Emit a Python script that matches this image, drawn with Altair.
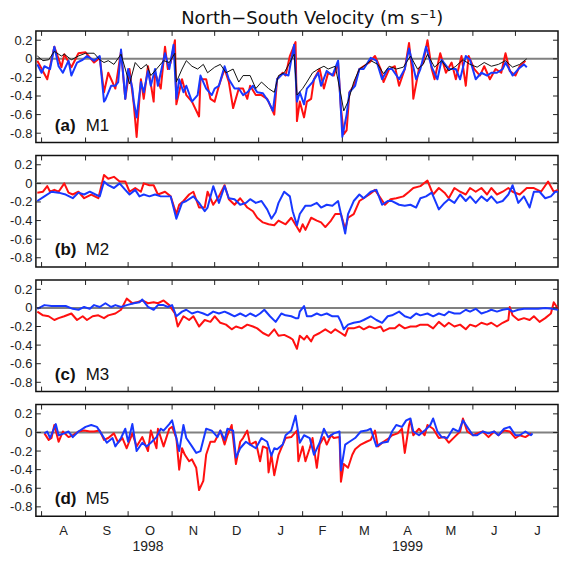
import altair as alt
import pandas as pd

START = pd.Timestamp("1998-07-28")
END = pd.Timestamp("1999-07-31")
SPAN = (END - START).days

MONTH_STARTS = ["1998-08-01", "1998-09-01", "1998-10-01", "1998-11-01", "1998-12-01",
                "1999-01-01", "1999-02-01", "1999-03-01", "1999-04-01", "1999-05-01",
                "1999-06-01", "1999-07-01"]
MONTH_LETTERS = ["A", "S", "O", "N", "D", "J", "F", "M", "A", "M", "J", "J"]
YEAR_LABELS = ["1998", "1999"]
YEAR_DATES = ["1998-10-15", "1999-04-16"]
Y_TICKS = [0.2, 0, -0.2, -0.4, -0.6, -0.8]

# (day since 1998-07-28, velocity m/s)
A_RED = [(1,-0.02),(8,-0.22),(13,0.13),(18,-0.09),(20,0.05),(25,-0.09),(30,0.06),(35,0.07),(41,-0.04),(45,0.01),
         (48,-0.36),(51,-0.15),(56,-0.32),(60,0.08),(63,-0.43),(66,-0.11),(69,-0.49),(71,-0.84),(74,-0.22),(76,-0.43),
         (79,-0.08),(83,-0.46),(84,-0.15),(88,-0.32),(91,0.13),(93,-0.11),(95,-0.04),(98,0.2),(99,-0.49),(103,-0.22),
         (106,-0.39),(110,-0.46),(115,-0.62),(116,-0.22),(120,-0.22),(123,-0.43),(126,-0.46),(129,-0.29),(133,-0.11),(136,-0.25),
         (139,-0.53),(143,-0.32),(146,-0.32),(149,-0.43),(151,-0.29),(155,-0.39),(159,-0.39),(163,-0.43),(166,-0.53),(168,-0.6),
         (170,-0.22),(174,-0.15),(176,-0.18),(179,0.03),(183,0.18),(184,-0.67),(186,-0.46),(189,-0.63),(191,-0.46),(194,-0.43),
         (196,-0.22),(200,-0.11),(203,-0.32),(206,-0.15),(210,-0.18),(213,-0.04),(215,-0.53),(217,-0.81),(219,-0.77),(221,-0.36),
         (224,-0.29),(228,-0.11),(231,-0.08),(235,-0.04),(239,0.03),(243,-0.11),(245,-0.25),(249,-0.11),(253,-0.08),(256,-0.29),
         (260,-0.11),(263,0.17),(265,-0.11),(266,-0.43),(270,-0.11),(273,-0.04),(276,0.2),(279,-0.11),(281,-0.22),(285,0.06),
         (289,-0.15),(293,-0.04),(296,-0.22),(300,0.03),(303,-0.29),(305,0.03),(309,-0.11),(313,-0.18),(316,-0.08),(320,-0.22),
         (324,-0.11),(328,-0.15),(331,0.06),(334,-0.13),(338,-0.18),(341,-0.08),(345,-0.02)]
A_BLUE = [(1,-0.06),(4,-0.15),(6,-0.08),(10,-0.11),(13,0.13),(16,-0.08),(19,-0.15),(23,-0.02),(25,-0.18),(29,-0.04),
          (33,-0.01),(36,0.03),(41,-0.02),(45,0.03),(48,-0.46),(49,-0.44),(53,-0.29),(56,-0.29),(58,-0.25),(60,0.1),
          (63,-0.43),(65,-0.11),(68,-0.32),(69,-0.46),(71,-0.63),(74,-0.25),(76,-0.36),(79,-0.13),(81,-0.29),(84,-0.11),
          (86,-0.29),(89,-0.08),(91,0.06),(94,-0.11),(97,0.15),(99,-0.43),(101,-0.22),(104,-0.36),(106,-0.29),(110,-0.46),
          (114,-0.39),(116,-0.18),(120,-0.32),(124,-0.39),(126,-0.32),(129,-0.29),(133,-0.08),(136,-0.22),(140,-0.32),(143,-0.32),
          (146,-0.39),(149,-0.36),(153,-0.29),(156,-0.36),(160,-0.37),(164,-0.46),(167,-0.56),(170,-0.22),(174,-0.16),(178,-0.18),
          (180,-0.01),(182,0.15),(184,-0.46),(186,-0.36),(189,-0.49),(191,-0.32),(195,-0.25),(199,-0.15),(201,-0.29),(205,-0.13),
          (209,-0.18),(213,-0.02),(215,-0.56),(216,-0.84),(219,-0.6),(221,-0.36),(225,-0.29),(228,-0.11),(231,-0.11),(236,0.01),
          (240,-0.02),(244,-0.22),(248,-0.11),(251,-0.11),(256,-0.22),(260,-0.11),(263,0.11),(265,-0.02),(268,-0.22),(271,-0.11),
          (275,0.13),(279,-0.09),(283,-0.22),(286,-0.01),(291,-0.11),(296,-0.11),(299,-0.22),(303,0.03),(306,-0.01),(310,-0.22),
          (314,-0.15),(318,-0.18),(321,-0.15),(325,-0.15),(329,-0.11),(331,-0.04),(336,-0.18),(340,-0.11),(344,-0.06),(346,-0.09)]
A_BLACK = [(1,0.03),(5,-0.02),(9,-0.01),(13,0.08),(18,0.03),(20,0.05),(25,-0.01),(30,0.03),(35,0.06),(41,0.06),
           (45,-0.01),(48,-0.04),(51,-0.02),(55,-0.06),(60,0.05),(63,-0.11),(66,-0.27),(70,-0.04),(74,-0.11),(78,-0.06),
           (81,-0.18),(85,-0.11),(90,-0.02),(94,-0.04),(98,0.06),(99,-0.25),(103,-0.11),(106,-0.02),(110,-0.08),(114,-0.11),
           (118,-0.06),(121,-0.15),(126,-0.09),(130,-0.06),(134,-0.15),(139,-0.11),(143,-0.25),(146,-0.18),(151,-0.18),(155,-0.32),
           (159,-0.25),(164,-0.32),(168,-0.36),(171,-0.18),(175,-0.15),(179,-0.04),(182,0.05),(184,-0.39),(188,-0.32),(191,-0.25),
           (195,-0.15),(199,-0.11),(203,-0.08),(206,-0.11),(211,-0.08),(215,-0.39),(217,-0.56),(220,-0.46),(224,-0.25),(228,-0.11),
           (231,-0.08),(236,-0.02),(241,-0.06),(245,-0.16),(249,-0.08),(254,-0.11),(259,-0.09),(264,0.03),(269,-0.11),(273,-0.06),
           (276,0.05),(281,-0.09),(286,-0.02),(291,-0.13),(296,-0.08),(301,-0.01),(306,-0.06),(311,-0.09),(316,-0.04),(321,-0.08),
           (326,-0.06),(331,-0.02),(336,-0.09),(341,-0.06),(346,0.0)]

B_RED = [(1,-0.1),(5,-0.09),(8,-0.03),(10,-0.09),(13,-0.07),(16,-0.09),(20,0.0),(23,-0.1),(26,-0.12),(30,-0.09),
         (34,-0.16),(39,-0.12),(44,-0.16),(48,0.09),(51,0.05),(55,0.07),(59,0.02),(63,0.02),(66,-0.09),(70,-0.05),
         (74,-0.09),(76,0.0),(80,-0.02),(83,-0.02),(86,-0.12),(91,-0.09),(95,-0.14),(99,-0.33),(101,-0.23),(104,-0.19),
         (108,-0.12),(111,-0.09),(115,-0.26),(119,-0.26),(121,-0.09),(125,-0.23),(129,-0.14),(133,-0.02),(136,-0.17),(140,-0.23),
         (144,-0.16),(149,-0.26),(153,-0.3),(156,-0.37),(160,-0.42),(164,-0.44),(168,-0.45),(171,-0.4),(176,-0.44),(180,-0.37),
         (184,-0.47),(186,-0.52),(188,-0.44),(190,-0.5),(194,-0.37),(198,-0.4),(201,-0.42),(204,-0.47),(208,-0.4),(211,-0.33),
         (215,-0.33),(218,-0.49),(220,-0.37),(224,-0.33),(228,-0.19),(231,-0.16),(235,-0.12),(239,-0.07),(243,-0.16),(246,-0.23),
         (250,-0.17),(254,-0.16),(259,-0.14),(263,-0.09),(266,-0.05),(271,-0.03),(276,0.03),(280,-0.12),(284,-0.05),(288,-0.1),
         (291,-0.16),(295,-0.05),(299,-0.09),(303,-0.12),(306,-0.05),(310,-0.09),(314,-0.05),(318,-0.12),(321,-0.05),(325,-0.12),
         (329,-0.09),(333,-0.05),(336,-0.09),(341,-0.12),(346,-0.05),(351,-0.05),(356,-0.09),(361,0.02),(365,-0.09),(368,-0.07)]
B_BLUE = [(1,-0.19),(6,-0.14),(11,-0.09),(16,-0.1),(21,-0.12),(26,-0.16),(30,-0.1),(34,-0.12),(38,-0.09),(42,-0.12),
          (45,-0.14),(48,0.02),(51,-0.02),(55,-0.05),(59,0.0),(63,-0.07),(66,-0.12),(70,-0.07),(73,-0.14),(76,-0.12),
          (80,-0.14),(84,-0.12),(88,-0.14),(91,-0.14),(95,-0.14),(99,-0.38),(103,-0.21),(106,-0.19),(111,-0.14),(115,-0.21),
          (119,-0.3),(121,-0.26),(125,-0.03),(129,-0.21),(133,-0.03),(136,-0.16),(140,-0.17),(144,-0.23),(148,-0.21),(151,-0.17),
          (155,-0.21),(159,-0.19),(163,-0.28),(166,-0.38),(169,-0.31),(171,-0.21),(175,-0.09),(179,-0.14),(181,-0.3),(184,-0.45),
          (186,-0.33),(190,-0.24),(194,-0.24),(198,-0.21),(201,-0.26),(205,-0.23),(209,-0.24),(213,-0.19),(216,-0.4),(218,-0.54),
          (220,-0.33),(224,-0.19),(228,-0.12),(231,-0.16),(236,-0.09),(240,-0.07),(244,-0.23),(248,-0.19),(251,-0.19),(256,-0.23),
          (260,-0.24),(264,-0.23),(268,-0.26),(271,-0.16),(275,-0.14),(279,-0.1),(284,-0.28),(288,-0.21),(291,-0.17),(295,-0.21),
          (299,-0.12),(303,-0.19),(306,-0.14),(310,-0.21),(314,-0.14),(318,-0.19),(321,-0.14),(325,-0.21),(329,-0.19),(333,-0.12),
          (336,-0.02),(340,-0.21),(344,-0.14),(348,-0.26),(351,-0.09),(355,-0.09),(359,-0.16),(363,-0.14),(366,-0.09),(368,-0.09)]

C_RED = [(1,-0.04),(5,-0.08),(9,-0.09),(13,-0.13),(16,-0.11),(20,-0.09),(25,-0.06),(29,-0.13),(33,-0.09),(36,-0.13),
         (40,-0.09),(44,-0.08),(48,-0.11),(51,-0.08),(56,-0.06),(60,-0.02),(64,0.1),(68,0.05),(71,0.06),(75,0.08),
         (79,0.05),(83,0.06),(86,0.05),(90,0.08),(94,0.03),(98,-0.06),(100,-0.2),(104,-0.09),(108,-0.13),(111,-0.09),
         (115,-0.2),(119,-0.13),(123,-0.15),(126,-0.09),(130,-0.16),(134,-0.18),(138,-0.23),(141,-0.2),(145,-0.22),(149,-0.18),
         (153,-0.2),(156,-0.22),(160,-0.27),(164,-0.3),(168,-0.23),(171,-0.3),(175,-0.29),(179,-0.32),(181,-0.34),(184,-0.44),
         (186,-0.3),(189,-0.34),(191,-0.3),(194,-0.36),(196,-0.3),(200,-0.27),(204,-0.23),(208,-0.27),(211,-0.23),(215,-0.27),
         (218,-0.3),(220,-0.22),(224,-0.22),(228,-0.2),(231,-0.23),(235,-0.2),(239,-0.22),(243,-0.2),(245,-0.25),(249,-0.22),
         (253,-0.22),(256,-0.18),(260,-0.22),(264,-0.2),(268,-0.2),(271,-0.18),(276,-0.18),(280,-0.22),(284,-0.15),(288,-0.2),
         (291,-0.16),(295,-0.2),(299,-0.18),(303,-0.23),(306,-0.18),(310,-0.2),(314,-0.16),(318,-0.18),(321,-0.16),(325,-0.2),
         (329,-0.16),(333,-0.13),(334,0.01),(336,-0.08),(340,-0.13),(344,-0.11),(348,-0.13),(351,-0.09),(355,-0.15),(359,-0.11),
         (363,-0.06),(365,0.06),(368,-0.01)]
C_BLUE = [(1,-0.01),(6,0.03),(11,0.02),(16,0.02),(21,0.02),(26,-0.01),(30,-0.02),(34,0.01),(38,-0.01),(41,0.03),
          (45,0.01),(49,0.05),(53,0.01),(56,0.03),(60,0.01),(64,0.03),(69,0.05),(73,0.06),(75,0.09),(79,0.01),
          (83,-0.02),(86,0.03),(90,0.03),(93,0.01),(96,0.03),(99,-0.09),(103,-0.04),(106,-0.02),(110,-0.06),(114,-0.04),
          (118,-0.06),(121,-0.08),(125,-0.04),(129,-0.06),(133,-0.04),(136,-0.06),(140,-0.09),(144,-0.06),(148,-0.09),(151,-0.06),
          (155,-0.09),(158,-0.06),(161,-0.02),(165,-0.09),(169,-0.15),(173,-0.06),(176,-0.08),(180,-0.09),(183,-0.11),(185,-0.11),
          (186,-0.04),(189,0.02),(191,-0.09),(194,-0.09),(198,-0.06),(201,-0.08),(205,-0.06),(209,-0.09),(213,-0.09),(215,-0.15),
          (217,-0.23),(220,-0.18),(224,-0.16),(228,-0.15),(231,-0.13),(236,-0.09),(240,-0.13),(244,-0.16),(248,-0.09),(251,-0.08),
          (256,-0.04),(260,-0.09),(264,-0.11),(268,-0.06),(271,-0.08),(276,-0.06),(280,-0.09),(284,-0.06),(288,-0.08),(291,-0.04),
          (295,-0.06),(299,-0.06),(303,-0.02),(306,-0.04),(310,-0.01),(314,-0.06),(318,-0.04),(321,-0.02),(325,-0.04),(329,-0.02),
          (333,-0.01),(336,-0.04),(340,-0.02),(344,-0.01),(349,-0.01),(354,-0.01),(359,0.0),(364,-0.01),(368,-0.02)]

D_RED = [(6,-0.01),(9,-0.08),(11,-0.06),(13,0.08),(16,-0.1),(19,0.01),(23,-0.05),(26,-0.03),(30,0.01),(34,0.02),
         (38,0.01),(41,0.01),(45,0.02),(48,-0.08),(51,-0.06),(55,-0.01),(58,-0.11),(61,-0.06),(64,-0.17),(68,-0.01),
         (71,-0.15),(75,-0.05),(79,-0.2),(81,0.02),(85,-0.17),(86,0.04),(90,-0.15),(94,0.04),(96,0.06),(99,-0.06),
         (101,-0.4),(103,-0.17),(105,-0.24),(108,-0.31),(110,-0.29),(113,-0.38),(115,-0.62),(118,-0.52),(120,-0.24),(123,-0.1),
         (126,-0.1),(130,0.02),(133,-0.13),(135,-0.03),(138,0.08),(141,-0.34),(144,-0.1),(146,-0.06),(149,0.02),(151,-0.13),
         (155,-0.1),(158,-0.31),(160,-0.15),(163,-0.17),(164,-0.43),(166,-0.24),(168,-0.46),(171,-0.24),(174,-0.13),(176,-0.06),
         (180,-0.05),(184,0.02),(185,-0.31),(188,-0.15),(190,-0.31),(193,-0.17),(195,-0.06),(198,-0.38),(200,-0.13),(203,-0.05),
         (205,-0.13),(208,-0.03),(210,-0.06),(214,-0.05),(215,-0.53),(217,-0.34),(220,-0.38),(223,-0.24),(225,-0.18),(229,-0.13),
         (233,-0.1),(236,-0.08),(239,0.02),(241,-0.15),(245,-0.1),(249,-0.06),(251,-0.03),(255,-0.01),(258,0.04),(260,-0.22),
         (263,0.08),(264,0.13),(266,-0.03),(270,0.04),(274,-0.03),(276,0.08),(280,0.04),(284,-0.06),(288,-0.05),(291,-0.11),
         (295,-0.05),(299,0.01),(301,0.15),(304,0.01),(308,-0.03),(311,-0.01),(315,0.01),(319,-0.05),(323,0.01),(326,-0.03),
         (330,0.02),(334,0.01),(338,-0.06),(341,-0.03),(345,-0.05),(349,-0.01)]
D_BLUE = [(6,-0.01),(8,0.01),(10,-0.06),(14,0.09),(16,-0.03),(20,-0.01),(23,0.01),(26,-0.05),(30,0.01),(35,0.06),
          (39,0.08),(43,0.06),(46,-0.01),(50,-0.11),(54,-0.06),(56,-0.15),(60,-0.06),(63,0.04),(65,-0.1),(68,0.09),
          (71,-0.2),(75,-0.11),(78,-0.15),(81,-0.11),(85,-0.05),(88,0.04),(90,0.02),(94,0.09),(96,0.13),(99,-0.06),
          (101,-0.2),(104,0.08),(106,-0.06),(110,-0.15),(113,-0.22),(116,-0.2),(120,0.04),(124,0.02),(128,-0.05),(130,0.02),
          (133,-0.08),(135,0.04),(139,0.02),(141,-0.27),(144,-0.17),(148,-0.1),(151,-0.13),(155,-0.17),(159,-0.06),(163,-0.1),
          (166,-0.25),(168,-0.17),(170,-0.18),(174,-0.13),(176,-0.03),(180,0.02),(183,0.18),(186,-0.11),(189,-0.03),(193,-0.06),
          (196,-0.24),(200,-0.11),(203,0.04),(206,-0.05),(210,-0.01),(214,0.01),(215,-0.41),(218,-0.13),(221,-0.1),(225,-0.06),
          (229,0.01),(233,0.02),(236,0.04),(240,-0.15),(244,-0.11),(248,-0.1),(251,0.01),(254,0.08),(258,0.06),(261,0.13),
          (264,0.15),(266,0.01),(270,-0.03),(274,0.02),(278,0.08),(280,0.15),(283,0.01),(286,-0.05),(290,-0.06),(294,0.04),
          (298,0.01),(301,0.13),(304,0.06),(308,-0.03),(311,-0.03),(315,0.01),(319,-0.01),(323,0.01),(326,-0.03),(330,0.04),
          (334,0.06),(338,-0.03),(341,-0.03),(345,0.01),(349,-0.03),(350,-0.01)]

PANELS = [
    ("(a)", "M1", [("red", A_RED), ("blue", A_BLUE), ("black", A_BLACK)]),
    ("(b)", "M2", [("red", B_RED), ("blue", B_BLUE)]),
    ("(c)", "M3", [("red", C_RED), ("blue", C_BLUE)]),
    ("(d)", "M5", [("red", D_RED), ("blue", D_BLUE)]),
]

COLORS = {"red": "#ff1010", "blue": "#1838ff", "black": "#111111"}
WIDTHS = {"red": 2.0, "blue": 2.0, "black": 1.0}

W, H = 524, 112
FONT = "Liberation Sans"

XS = alt.Scale(domain=[0, SPAN], nice=False, zero=False)
YS = alt.Scale(domain=[-0.9, 0.3], nice=False, zero=False)
YAX = alt.Axis(values=Y_TICKS, ticks=False, domain=False, grid=False,
               labelExpr="datum.value < 0 ? '-' + format(-datum.value, '~g') : format(datum.value, '~g')",
               labelPadding=4, labelFontSize=13, labelColor="#222", title=None)

def day(s):
    return (pd.Timestamp(s) - START).days

month_days = [day(m) for m in MONTH_STARTS]
bounds = month_days + [SPAN + 1]
month_mid = [(bounds[i] + bounds[i + 1]) / 2 for i in range(len(MONTH_STARTS))]

ytick_df = pd.DataFrame({"v": Y_TICKS})
xtick_df = pd.DataFrame({"d": month_days})


def panel(letter, name, series, bottom):
    layers = []
    layers.append(
        alt.Chart(pd.DataFrame({"v": [0.0]})).mark_rule(color="#808080", strokeWidth=2)
        .encode(y=alt.Y("v:Q", scale=YS, axis=YAX))
    )
    for key, pts in series:
        df = pd.DataFrame(pts, columns=["d", "v"])
        layers.append(
            alt.Chart(df).mark_line(color=COLORS[key], strokeWidth=WIDTHS[key], strokeJoin="round")
            .encode(x=alt.X("d:Q", scale=XS, axis=None),
                    y=alt.Y("v:Q", scale=YS, axis=YAX))
        )
    for x0, x1 in [(0, 5), (W - 5, W)]:
        layers.append(
            alt.Chart(ytick_df).mark_rule(color="#222", strokeWidth=1)
            .encode(y=alt.Y("v:Q", scale=YS, axis=YAX), x=alt.value(x0), x2=alt.value(x1))
        )
    for y0, y1 in [(0, 5), (H - 5, H)]:
        layers.append(
            alt.Chart(xtick_df).mark_rule(color="#222", strokeWidth=1)
            .encode(x=alt.X("d:Q", scale=XS, axis=None), y=alt.value(y0), y2=alt.value(y1))
        )
    layers.append(
        alt.Chart(pd.DataFrame({"t": [letter]})).mark_text(
            align="left", baseline="alphabetic", fontSize=17, fontWeight="bold", font=FONT, color="#111")
        .encode(text="t:N", x=alt.value(19), y=alt.value(H - 12))
    )
    layers.append(
        alt.Chart(pd.DataFrame({"t": [name]})).mark_text(
            align="left", baseline="alphabetic", fontSize=17, font=FONT, color="#111")
        .encode(text="t:N", x=alt.value(50), y=alt.value(H - 12))
    )
    if bottom:
        layers.append(
            alt.Chart(pd.DataFrame({"d": month_mid, "t": MONTH_LETTERS})).mark_text(
                baseline="middle", fontSize=13, font=FONT, color="#222")
            .encode(x=alt.X("d:Q", scale=XS, axis=None), y=alt.value(H + 15), text="t:N")
        )
        layers.append(
            alt.Chart(pd.DataFrame({"d": [day(s) for s in YEAR_DATES], "t": YEAR_LABELS})).mark_text(
                baseline="middle", fontSize=14, font=FONT, color="#222")
            .encode(x=alt.X("d:Q", scale=XS, axis=None), y=alt.value(H + 31), text="t:N")
        )
    return alt.layer(*layers).properties(width=W, height=H)


charts = [panel(l, n, s, i == len(PANELS) - 1) for i, (l, n, s) in enumerate(PANELS)]

chart = (
    alt.vconcat(*charts, spacing=9)
    .properties(padding=0,
                title=alt.TitleParams("North\u2212South Velocity (m s\u207b\u00b9)", anchor="middle",
                                      fontSize=18, fontWeight="normal", font="DejaVu Sans",
                                      color="#111", offset=2, dx=28))
    .configure_view(stroke="#111", strokeWidth=1.5)
    .configure_axis(labelFont=FONT)
)

chart.save("out.html", embed_options={"renderer": "svg", "actions": False})
